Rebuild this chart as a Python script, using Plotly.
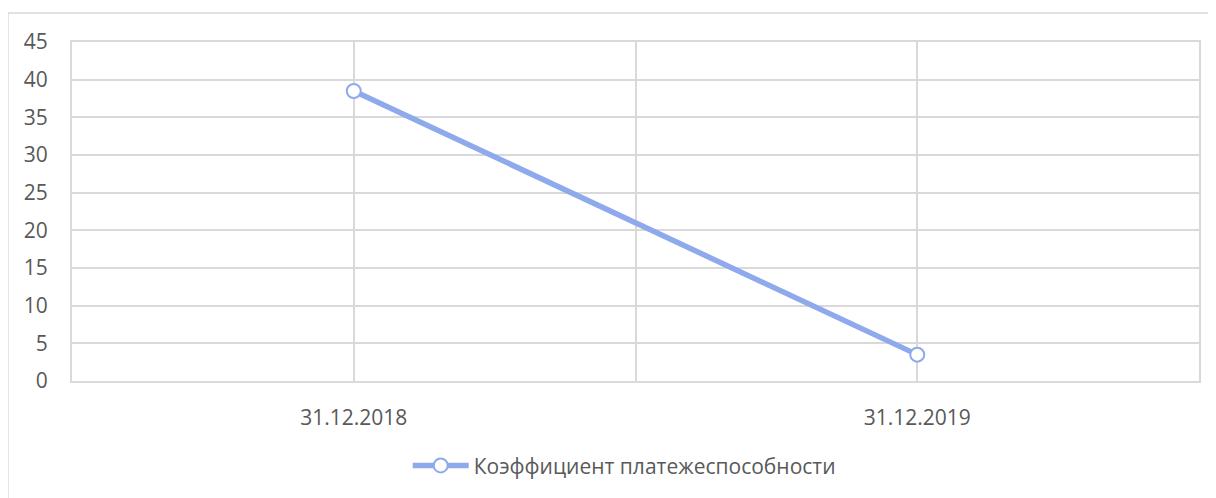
import plotly.graph_objects as go

categories = ["31.12.2018", "31.12.2019"]
values = [38.5, 3.5]
series_name = "Коэффициент платежеспособности"
y_ticks = [0, 5, 10, 15, 20, 25, 30, 35, 40, 45]

line_color = "#8EA9EC"
grid_color = "#D9D9D9"
text_color = "#595959"
font_family = "Open Sans, Noto Sans, DejaVu Sans, sans-serif"

x_idx = list(range(len(categories)))

fig = go.Figure()
fig.add_trace(go.Scatter(
    x=x_idx, y=values, name=series_name, mode="lines+markers",
    line=dict(color=line_color, width=5.5),
    marker=dict(symbol="circle", size=14, color="white",
                line=dict(color=line_color, width=2)),
    showlegend=True,
))

fig.update_layout(
    width=1208, height=490,
    margin=dict(l=64, r=17, t=34, b=117),
    paper_bgcolor="white", plot_bgcolor="white",
    font=dict(family=font_family, size=21, color=text_color),
    showlegend=True,
    legend=dict(orientation="h", x=0.49, xanchor="center", y=-0.25, yanchor="middle",
                font=dict(size=21, color=text_color), itemwidth=56),
    xaxis=dict(
        range=[-0.5, len(categories) - 0.5],
        tickvals=x_idx, ticktext=categories,
        showgrid=True, gridcolor=grid_color, gridwidth=2,
        minor=dict(tickvals=[i - 0.5 for i in range(len(categories) + 1)],
                   showgrid=True, gridcolor=grid_color, gridwidth=2),
        showline=True, mirror=True, linecolor=grid_color, linewidth=2,
        zeroline=False, ticks="",
        ticklabelstandoff=17,
        fixedrange=True,
    ),
    yaxis=dict(
        range=[0, 45], tickvals=y_ticks,
        showgrid=True, gridcolor=grid_color, gridwidth=2,
        zeroline=True, zerolinecolor=grid_color, zerolinewidth=2,
        showline=True, mirror=True, linecolor=grid_color, linewidth=2,
        ticks="",
        ticklabelstandoff=18,
        fixedrange=True,
    ),
    shapes=[dict(type="rect", xref="paper", yref="paper",
                 x0=-0.0568, x1=1.2, y0=-0.6, y1=1.0855,
                 line=dict(color=grid_color, width=1.5), fillcolor="rgba(0,0,0,0)",
                 layer="below")],
)

fig.write_html("out.html")
